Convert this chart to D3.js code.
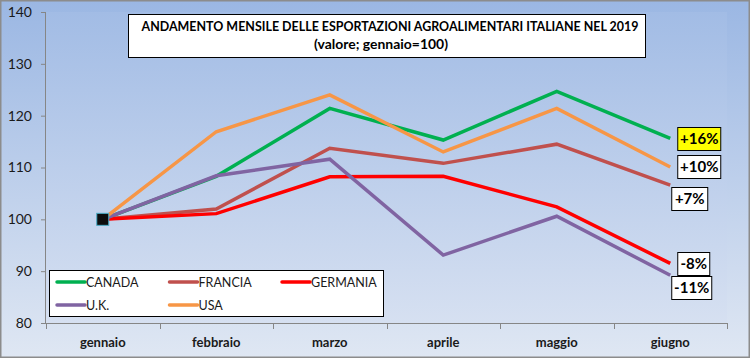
<!DOCTYPE html>
<html><head><meta charset="utf-8">
<script src="https://cdn.jsdelivr.net/npm/d3@7"></script>
<style>html,body{margin:0;padding:0;background:#fff}svg{display:block}</style>
</head><body><svg id="c" width="750" height="358"></svg>
<script>
const months = ["gennaio","febbraio","marzo","aprile","maggio","giugno"];
const yTicks = [80,90,100,110,120,130,140];
const seriesNames = ["CANADA","FRANCIA","GERMANIA","U.K.","USA"];
const seriesColors = ["#00b050","#c0504d","#ff0000","#8064a2","#f79646"];
const canada   = [100,108.3,121.4,115.3,124.7,115.6];
const francia  = [100,102.0,113.7,110.8,114.5,106.6];
const germania = [100,101.1,108.2,108.3,102.4,91.5];
const uk       = [100,108.4,111.6,93.1,100.6,89.2];
const usa      = [100,116.9,124.0,113.0,121.4,110.1];
const endLabels = ["+16%","+10%","+7%","-8%","-11%"];
const endLabelSeries = ["CANADA","USA","FRANCIA","GERMANIA","U.K."];
const title1 = "ANDAMENTO MENSILE DELLE ESPORTAZIONI AGROALIMENTARI ITALIANE NEL 2019";
const title2 = "(valore; gennaio=100)";

const allValues = [canada,francia,germania,uk,usa];
const series = seriesNames.map((n,i)=>({name:n,color:seriesColors[i],values:allValues[i]}));

const svg = d3.select("#c");
const font = "Lato, 'Open Sans', sans-serif";
const defs = svg.append("defs");
const g1 = defs.append("linearGradient").attr("id","bg").attr("x1",0).attr("y1",0).attr("x2",0).attr("y2",1);
g1.append("stop").attr("offset","0%").attr("stop-color","#9bb7e3");
g1.append("stop").attr("offset","100%").attr("stop-color","#dfe7f3");
const g2 = defs.append("linearGradient").attr("id","pbg").attr("x1",0).attr("y1",0).attr("x2",0).attr("y2",1);
g2.append("stop").attr("offset","0%").attr("stop-color","#a2bce5");
g2.append("stop").attr("offset","100%").attr("stop-color","#d6e0f1");

svg.append("rect").attr("x",0.75).attr("y",0.75).attr("width",748.5).attr("height",356.5)
  .attr("fill","url(#bg)").attr("stroke","#8c8c8c").attr("stroke-width",1.5);

const x = d3.scaleBand().domain(months).range([46,727]);
const y = d3.scaleLinear().domain([80,140]).range([323,12]);
const xc = m => x(m)+x.bandwidth()/2;

svg.append("rect").attr("x",46).attr("y",12).attr("width",681).attr("height",311).attr("fill","url(#pbg)");

// y axis
const ya = svg.append("g").attr("transform","translate(46,0)")
  .call(d3.axisLeft(y).tickValues(yTicks).tickSize(5).tickPadding(9).tickFormat(d3.format("d")));
ya.select(".domain").attr("stroke","#868686").attr("d","M-0.5,12.5V323.5");
ya.selectAll(".tick line").attr("stroke","#868686");
ya.selectAll("text").attr("font-family",font).attr("font-size",14).attr("fill","#1a1a1a");

// x axis
const xa = svg.append("g").attr("transform","translate(0,323.5)")
  .call(d3.axisBottom(x).tickSize(0).tickPadding(14));
xa.select(".domain").attr("stroke","#868686").attr("d","M46,0H727");
xa.selectAll("text").attr("font-family",font).attr("font-size",13).attr("font-weight","bold").attr("fill","#1a1a1a");
const bounds = months.map(m=>x(m)).concat([727]);
svg.append("g").selectAll("line").data(bounds).join("line")
  .attr("x1",d=>Math.round(d)+0.5).attr("x2",d=>Math.round(d)+0.5).attr("y1",323).attr("y2",329)
  .attr("stroke","#868686");

// lines
const line = d3.line().x((d,i)=>xc(months[i])).y(d=>y(d));
svg.append("g").selectAll("path").data(series).join("path")
  .attr("d",d=>line(d.values)).attr("fill","none").attr("stroke",d=>d.color)
  .attr("stroke-width",3.5).attr("stroke-linejoin","miter");

// gennaio marker
svg.append("rect").attr("x",xc(months[0])-6).attr("y",y(100)-6).attr("width",12).attr("height",12)
  .attr("fill","#0d0d0d").attr("stroke","#4bacc6").attr("stroke-width",1);

// end labels
const labelPos = {"CANADA":{dx:7,dy:0,w:43,fill:"#ffff00"},"USA":{dx:7,dy:0,w:43,fill:"#fff"},
  "FRANCIA":{dx:1,dy:13,w:36,fill:"#fff"},"GERMANIA":{dx:7,dy:0,w:32,fill:"#fff"},"U.K.":{dx:1,dy:12,w:40,fill:"#fff"}};
endLabels.forEach((t,i)=>{
  const s = series.find(d=>d.name===endLabelSeries[i]);
  const p = labelPos[s.name];
  const px = xc(months[5])+p.dx, py = y(s.values[5])+p.dy;
  svg.append("rect").attr("x",px+0.5).attr("y",Math.round(py-11.5)+0.5).attr("width",p.w).attr("height",23)
    .attr("fill",p.fill).attr("stroke","#000").attr("stroke-width",1);
  svg.append("text").attr("x",px+p.w/2+0.5).attr("y",py+5.5).attr("text-anchor","middle")
    .attr("font-family",font).attr("font-size",15).attr("font-weight","bold").attr("fill","#000").text(t);
});

// title
svg.append("rect").attr("x",128.5).attr("y",14.5).attr("width",517).attr("height",43)
  .attr("fill","#fff").attr("stroke","#000").attr("stroke-width",1);
svg.append("text").attr("x",390).attr("y",31).attr("text-anchor","middle").attr("font-family",font)
  .attr("font-size",13).attr("font-weight","bold").attr("fill","#000")
  .attr("textLength",497).attr("lengthAdjust","spacingAndGlyphs").text(title1);
svg.append("text").attr("x",381).attr("y",49).attr("text-anchor","middle").attr("font-family",font)
  .attr("font-size",13.5).attr("font-weight","bold").attr("fill","#000")
  .attr("textLength",134).attr("lengthAdjust","spacingAndGlyphs").text(title2);

// legend
svg.append("rect").attr("x",49.5).attr("y",270.5).attr("width",334).attr("height",46)
  .attr("fill","#fff").attr("stroke","#000").attr("stroke-width",1);
const lg = svg.append("g").selectAll("g").data(series).join("g")
  .attr("transform",(d,i)=>`translate(${57+(i%3)*112.5},${282+Math.floor(i/3)*23})`);
lg.append("line").attr("x1",0).attr("x2",28).attr("y1",0).attr("y2",0)
  .attr("stroke",d=>d.color).attr("stroke-width",3.5).attr("stroke-linecap","round");
lg.append("text").attr("x",29).attr("y",4.5).attr("font-family",font).attr("font-size",12.5)
  .attr("fill","#1a1a1a").text(d=>d.name);
</script></body></html>
